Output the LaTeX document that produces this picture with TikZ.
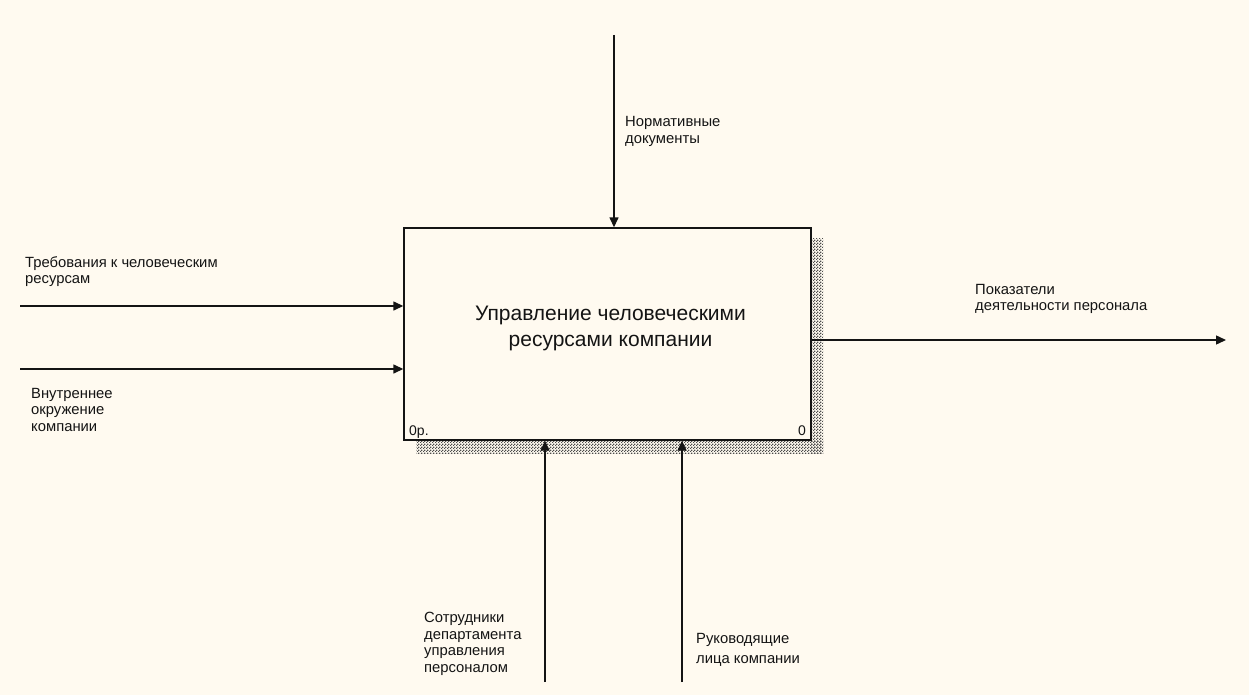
\documentclass[tikz,border=0pt]{standalone}
\usepackage{fontspec}
\setmainfont{Liberation Sans}
\usetikzlibrary{arrows.meta,patterns}
\definecolor{paper}{RGB}{255,250,240}
\definecolor{ink}{RGB}{20,20,20}
% fine checker of dots for the box shadow
\pgfdeclarepatternformonly{shadowdots}{\pgfpointorigin}{\pgfpoint{3pt}{3pt}}{\pgfpoint{3pt}{3pt}}{%
  \pgfpathrectangle{\pgfpointorigin}{\pgfpoint{1.5pt}{1.5pt}}%
  \pgfpathrectangle{\pgfpoint{1.5pt}{1.5pt}}{\pgfpoint{1.5pt}{1.5pt}}%
  \pgfusepath{fill}}
\begin{document}
\begin{tikzpicture}[x=1pt,y=-1pt,
  flow/.style={draw=ink,line width=1.4pt,-{Triangle[length=10pt,width=9pt]}},
  % multi-line labels are placed by the baseline of their last line
  lbl/.style={anchor=base west,align=left,inner sep=0pt,font=\fontsize{14.8}{16.5}\selectfont,text=ink},
  corner/.style={anchor=base,inner sep=0pt,font=\fontsize{14}{16}\selectfont,text=ink}]
  % canvas
  \fill[paper] (0,0) rectangle (1249,695);
  \useasboundingbox (0,0) rectangle (1249,695);
  % hatched shadow of the activity box
  \fill[pattern=shadowdots,pattern color=black!70] (811,238) rectangle (823,453);
  \fill[pattern=shadowdots,pattern color=black!70] (416,440) rectangle (823,453);
  % activity box
  \node[draw=ink,line width=1.4pt,fill=paper,minimum width=407pt,minimum height=212pt,inner sep=0pt] (box) at (607.5,334) {};
  \node[anchor=base,align=center,inner sep=0pt,font=\fontsize{21}{26}\selectfont,text=ink] (title) at (610.5,346) {Управление человеческими\hspace{12pt}\\ресурсами компании};
  \node[corner,anchor=base west] (num) at (409,435) {0р.};
  \node[corner,anchor=base east] (code) at (806,435) {0};
  % connector ends
  \coordinate (ctrl) at (614,35);
  \coordinate (in1) at (20,306);
  \coordinate (in2) at (20,369);
  \coordinate (out) at (1226,340);
  \coordinate (mech1) at (545,682);
  \coordinate (mech2) at (682,682);
  % connectors
  \draw[flow] (ctrl) -- (ctrl |- box.north);
  \draw[flow] (in1) -- (in1 -| box.west);
  \draw[flow] (in2) -- (in2 -| box.west);
  \draw[flow] (out -| box.east) -- (out);
  \draw[flow] (mech1) -- (mech1 |- box.south);
  \draw[flow] (mech2) -- (mech2 |- box.south);
  % labels
  \node[lbl,font=\fontsize{14.8}{17.5}\selectfont] (lctrl) at (625,144) {Нормативные\\документы};
  \node[lbl,font=\fontsize{14.8}{16}\selectfont] (lin1) at (25,283) {Требования к человеческим\\ресурсам};
  \node[lbl] (lin2) at (31,431) {Внутреннее\\окружение\\компании};
  \node[lbl,font=\fontsize{14.8}{16}\selectfont] (lout) at (975,310) {Показатели\\деятельности персонала};
  \node[lbl] (lmech1) at (424,672) {Сотрудники\\департамента\\управления\\персоналом};
  \node[lbl,font=\fontsize{14.8}{20}\selectfont] (lmech2) at (696,663) {Руководящие\\лица компании};
\end{tikzpicture}
\end{document}
